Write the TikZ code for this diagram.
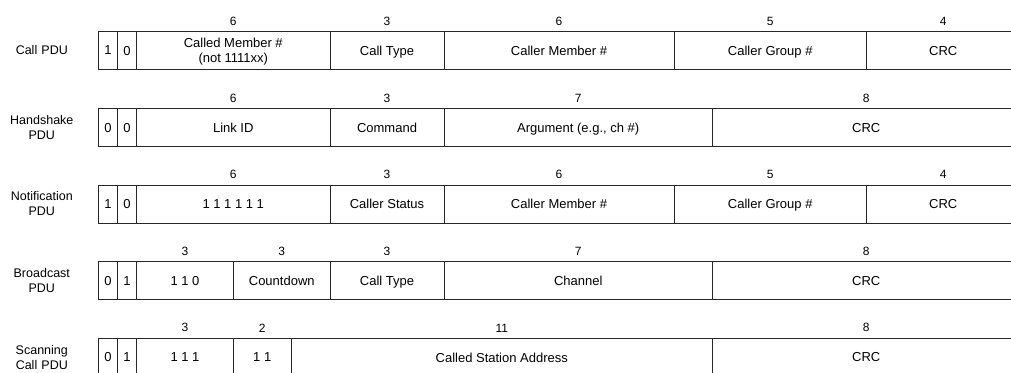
\documentclass[tikz,border=0pt]{standalone}
\usepackage{fontspec}
\setmainfont{Liberation Sans}
\usetikzlibrary{positioning}

\tikzset{
  fld/.style={draw=black!85, line width=1pt, rectangle, inner sep=0pt, outer sep=0pt,
    minimum height=38pt, align=center, text depth=0pt, font=\fontsize{13}{15}\selectfont},
  wd/.style={minimum width=#1pt},
  num/.style={inner sep=0pt, font=\fontsize{12}{14}\selectfont},
  lbl/.style={inner sep=0pt, text width=80pt, align=center, font=\fontsize{12.5}{15}\selectfont}
}

\begin{document}
\begin{tikzpicture}[x=1pt, y=-1pt]
  \useasboundingbox (0,0) rectangle (1011,372);

  % call pdu
  \node[fld, wd=19] (c1) at (108,50.5) {1};
  \node[fld, wd=19, right=0pt of c1] (c2) {0};
  \node[fld, wd=193.5, right=0pt of c2] (c3) {Called Member \#\\(not 1111xx)};
  \node[fld, wd=114, right=0pt of c3] (c4) {Call Type};
  \node[fld, wd=230, right=0pt of c4] (c5) {Caller Member \#};
  \node[fld, wd=192.5, right=0pt of c5] (c6) {Caller Group \#};
  \node[fld, wd=153.5, right=0pt of c6] (c7) {CRC};
  \node[lbl, left=16.5pt of c1] (lc) {Call PDU};
  \node[num, above=6pt of c3] (c3n) {6};
  \node[num, above=6pt of c4] (c4n) {3};
  \node[num, above=6pt of c5] (c5n) {6};
  \node[num, above=6pt of c6] (c6n) {5};
  \node[num, above=6pt of c7] (c7n) {4};

  % handshake pdu
  \node[fld, wd=19] (h1) at (108,127.5) {0};
  \node[fld, wd=19, right=0pt of h1] (h2) {0};
  \node[fld, wd=193.5, right=0pt of h2] (h3) {Link ID};
  \node[fld, wd=114, right=0pt of h3] (h4) {Command};
  \node[fld, wd=268.5, right=0pt of h4] (h5) {Argument (e.g., ch \#)};
  \node[fld, wd=307.5, right=0pt of h5] (h6) {CRC};
  \node[lbl, left=16.5pt of h1] (lh) {Handshake\\PDU};
  \node[num, above=6pt of h3] (h3n) {6};
  \node[num, above=6pt of h4] (h4n) {3};
  \node[num, above=6pt of h5] (h5n) {7};
  \node[num, above=6pt of h6] (h6n) {8};

  % notification pdu
  \node[fld, wd=19] (n1) at (108,204) {1};
  \node[fld, wd=19, right=0pt of n1] (n2) {0};
  \node[fld, wd=193.5, right=0pt of n2] (n3) {1 1 1 1 1 1};
  \node[fld, wd=114, right=0pt of n3] (n4) {Caller Status};
  \node[fld, wd=230, right=0pt of n4] (n5) {Caller Member \#};
  \node[fld, wd=192.5, right=0pt of n5] (n6) {Caller Group \#};
  \node[fld, wd=153.5, right=0pt of n6] (n7) {CRC};
  \node[lbl, left=16.5pt of n1] (ln) {Notification\\PDU};
  \node[num, above=6pt of n3] (n3n) {6};
  \node[num, above=6pt of n4] (n4n) {3};
  \node[num, above=6pt of n5] (n5n) {6};
  \node[num, above=6pt of n6] (n6n) {5};
  \node[num, above=6pt of n7] (n7n) {4};

  % broadcast pdu
  \node[fld, wd=19] (b1) at (108,280.7) {0};
  \node[fld, wd=19, right=0pt of b1] (b2) {1};
  \node[fld, wd=97, right=0pt of b2] (b3) {1 1 0};
  \node[fld, wd=96.5, right=0pt of b3] (b4) {Countdown};
  \node[fld, wd=114, right=0pt of b4] (b5) {Call Type};
  \node[fld, wd=268.5, right=0pt of b5] (b6) {Channel};
  \node[fld, wd=307.5, right=0pt of b6] (b7) {CRC};
  \node[lbl, left=16.5pt of b1] (lb) {Broadcast\\PDU};
  \node[num, above=6pt of b3] (b3n) {3};
  \node[num, above=6pt of b4] (b4n) {3};
  \node[num, above=6pt of b5] (b5n) {3};
  \node[num, above=6pt of b6] (b6n) {7};
  \node[num, above=6pt of b7] (b7n) {8};

  % scanning call pdu
  \node[fld, wd=19] (s1) at (108,357.3) {0};
  \node[fld, wd=19, right=0pt of s1] (s2) {1};
  \node[fld, wd=97, right=0pt of s2] (s3) {1 1 1};
  \node[fld, wd=57.5, right=0pt of s3] (s4) {1 1};
  \node[fld, wd=421.5, right=0pt of s4] (s5) {Called Station Address};
  \node[fld, wd=307.5, right=0pt of s5] (s6) {CRC};
  \node[lbl, left=16.5pt of s1] (ls) {Scanning\\Call PDU};
  \node[num, above=6pt of s3] (s3n) {3};
  \node[num, above=6pt of s4] (s4n) {2};
  \node[num, above=6pt of s5] (s5n) {11};
  \node[num, above=6pt of s6] (s6n) {8};
\end{tikzpicture}
\end{document}
